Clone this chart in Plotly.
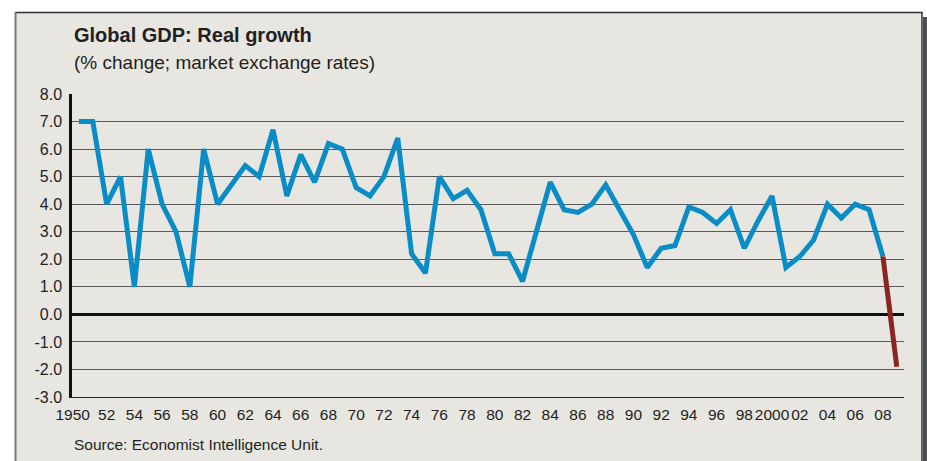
import plotly.graph_objects as go

# ---- data ----
years = list(range(1950, 2010))
growth = [7.0, 7.0, 4.0, 5.0, 1.0, 6.0, 4.0, 3.0, 1.0, 6.0,
          4.0, 4.7, 5.4, 5.0, 6.7, 4.3, 5.8, 4.8, 6.2, 6.0,
          4.6, 4.3, 5.0, 6.4, 2.2, 1.5, 5.0, 4.2, 4.5, 3.8,
          2.2, 2.2, 1.2, 3.0, 4.8, 3.8, 3.7, 4.0, 4.7, 3.8,
          2.9, 1.7, 2.4, 2.5, 3.9, 3.7, 3.3, 3.8, 2.4, 3.4,
          4.3, 1.7, 2.1, 2.7, 4.0, 3.5, 4.0, 3.8, 2.1, -1.9]
forecast_from = 2008
tick_years = [1950] + list(range(1952, 2009, 2))
tick_text = ["1950"] + [("2000" if y == 2000 else f"{y % 100:02d}") for y in range(1952, 2009, 2)]
y_ticks = [float(v) for v in range(-3, 9)]
y_tick_text = [f"{v:.1f}" for v in y_ticks]

TITLE = "Global GDP: Real growth"
SUBTITLE = "(% change; market exchange rates)"
SOURCE = "Source: Economist Intelligence Unit."

# ---- geometry ----
W, H = 927, 461
L, R, T, B = 72, 23, 94, 64
PW, PH = W - L - R, H - T - B


def px(x):
    return (x - L) / PW


def py(y):
    return (H - B - y) / PH


FONT = "Liberation Sans, Arial, sans-serif"
TXT = "#231f20"
BLUE = "#0a8dc6"
RED = "#8a2522"

split = years.index(forecast_from)

fig = go.Figure()
fig.add_trace(go.Scatter(x=years[:split + 1], y=growth[:split + 1], mode="lines",
                         line=dict(color=BLUE, width=5), hoverinfo="skip"))
fig.add_trace(go.Scatter(x=years[split:], y=growth[split:], mode="lines",
                         line=dict(color=RED, width=5), hoverinfo="skip"))

shapes = [
    dict(type="rect", xref="paper", yref="paper", x0=px(15), x1=px(922), y0=py(475), y1=py(12),
         fillcolor="#e7e6e0", line=dict(width=0), layer="below"),
    dict(type="rect", xref="paper", yref="paper", x0=px(923), x1=px(930), y0=py(475), y1=py(17),
         fillcolor="#4b5152", line=dict(width=0), layer="below"),
    dict(type="line", xref="paper", yref="paper", x0=px(15), x1=px(922.5), y0=py(12.5), y1=py(12.5),
         line=dict(color="#333333", width=1.5), layer="below"),
    dict(type="line", xref="paper", yref="paper", x0=px(15.5), x1=px(15.5), y0=py(12), y1=py(475),
         line=dict(color="#7a7a7a", width=2), layer="below"),
    dict(type="line", xref="paper", yref="paper", x0=px(922), x1=px(922), y0=py(12), y1=py(475),
         line=dict(color="#333333", width=1.5), layer="below"),
]

annotations = [
    dict(text=f"<b>{TITLE}</b>", x=px(72), y=py(35), xref="paper", yref="paper",
         xanchor="left", yanchor="middle", showarrow=False,
         font=dict(family=FONT, size=20, color=TXT)),
    dict(text=SUBTITLE, x=px(72), y=py(62), xref="paper", yref="paper",
         xanchor="left", yanchor="middle", showarrow=False,
         font=dict(family=FONT, size=19, color=TXT)),
    dict(text=SOURCE, x=px(72), y=py(444), xref="paper", yref="paper",
         xanchor="left", yanchor="middle", showarrow=False,
         font=dict(family=FONT, size=15.5, color=TXT)),
]

tickvals_x = [tick_years[0] - 0.45] + tick_years[1:]

fig.update_layout(
    width=W, height=H,
    margin=dict(l=L, r=R, t=T, b=B, pad=0),
    paper_bgcolor="white",
    plot_bgcolor="rgba(0,0,0,0)",
    showlegend=False,
    shapes=shapes,
    annotations=annotations,
    xaxis=dict(range=[1949.5, 2009.52], tickmode="array", tickvals=tickvals_x, ticktext=tick_text,
               tickangle=0, automargin=False,
               showgrid=False, zeroline=False, showline=True, linecolor="#222222", linewidth=1.2,
               ticks="outside", ticklen=3, tickcolor="rgba(0,0,0,0)",
               tickfont=dict(family=FONT, size=15.5, color=TXT), fixedrange=True),
    yaxis=dict(range=[-3, 8], tickmode="array", tickvals=y_ticks, ticktext=y_tick_text,
               automargin=False,
               showgrid=True, gridcolor="#5a5a5a", gridwidth=1,
               zeroline=True, zerolinecolor="#111111", zerolinewidth=2.5,
               showline=True, linecolor="#111111", linewidth=2.5,
               ticks="outside", ticklen=4, tickcolor="rgba(0,0,0,0)",
               tickfont=dict(family=FONT, size=16, color=TXT), fixedrange=True),
)

fig.write_html("out.html", config={"displayModeBar": False},
               post_script="document.body.style.margin='0';document.body.style.overflow='hidden';")
